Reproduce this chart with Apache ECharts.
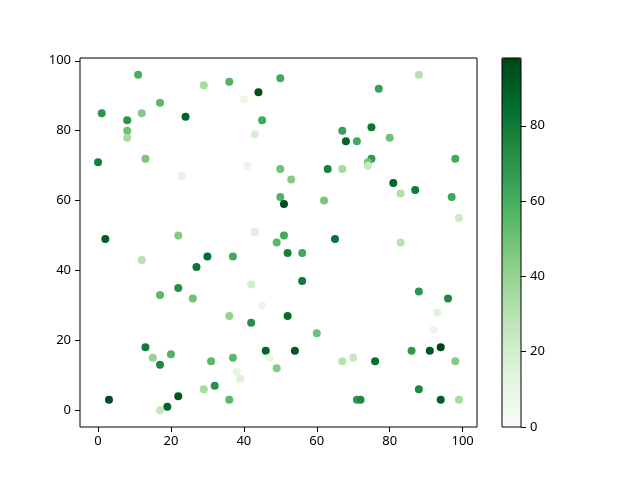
<!DOCTYPE html>
<html>
<head>
<meta charset="utf-8">
<script src="https://cdn.jsdelivr.net/npm/echarts@6/dist/echarts.min.js"></script>
<style>html,body{margin:0;padding:0;background:#fff}#c{width:640px;height:480px}</style>
</head>
<body>
<div id="c"></div>
<script>
var xs = [11,29,36,50,44,40,17,1,12,24,8,8,8,45,43,0,13,41,23,50,50,2,22,43,49,51,
  88,77,75,67,68,71,80,75,74,74,63,67,98,53,81,83,87,97,62,99,51,65,83,
  12,30,37,27,22,17,26,42,45,36,42,13,15,20,17,31,37,46,47,49,38,39,32,29,36,22,3,19,17,
  52,56,56,52,60,54,67,70,76,71,72,88,96,93,92,86,91,94,98,88,94,99];
var ys = [96,93,94,95,91,89,88,85,85,84,83,80,78,83,79,71,72,70,67,69,61,49,50,51,48,59,
  96,92,81,80,77,77,78,72,71,70,69,69,72,66,65,62,63,61,60,55,50,49,48,
  43,44,44,41,35,33,32,36,30,27,25,18,15,16,13,14,15,17,15,12,11,9,7,6,3,4,3,1,0,
  45,45,37,27,22,17,14,15,14,3,3,34,32,28,23,17,17,18,14,6,3,3];
var cs = [60,35,58,62,95,10,55,70,45,88,70,50,35,62,18,78,48,8,12,50,58,90,45,15,55,96,
  30,65,82,65,88,62,50,68,48,25,78,35,62,45,88,32,80,62,48,22,62,82,30,
  30,85,62,82,72,55,50,20,8,40,72,80,40,58,75,55,55,88,10,45,12,15,72,35,55,92,95,88,25,
  78,62,80,85,50,92,30,25,85,68,75,70,75,15,8,68,92,98,45,75,90,35];
var xTicks = [0,20,40,60,80,100];
var yTicks = [0,20,40,60,80,100];
var cTicks = [0,20,40,60,80];
var greens = ['#f7fcf5','#e5f5e0','#c7e9c0','#a1d99b','#74c476','#41ab5d','#238b45','#006d2c','#00441b'];

var pts = xs.map(function(x,i){ return [x, ys[i], cs[i]]; });
var cMax = Math.max.apply(null, cs);
var font = '"Noto Sans", "DejaVu Sans", sans-serif';
var lbl = {color:'#000', fontSize:13, fontFamily:font};

var chart = echarts.init(document.getElementById('c'), null, {renderer:'canvas'});
chart.setOption({
  animation:false,
  backgroundColor:'#fff',
  grid:[
    {left:80, top:58, right:163, bottom:53, show:true, borderColor:'#000', borderWidth:1, z:5},
    {left:502, top:58, width:19, height:369, show:true, borderColor:'#000', borderWidth:1, backgroundColor:'transparent', z:10}
  ],
  xAxis:[
    {type:'value', gridIndex:0, min:-4.95, max:103.95, splitLine:{show:false},
     axisLine:{show:false, onZero:false},
     axisTick:{show:true, length:5, lineStyle:{color:'#000'}, customValues:xTicks},
     axisLabel:Object.assign({margin:8, customValues:xTicks}, lbl)},
    {type:'value', gridIndex:1, show:false, min:0, max:1}
  ],
  yAxis:[
    {type:'value', gridIndex:0, min:-4.8, max:100.8, splitLine:{show:false},
     axisLine:{show:false, onZero:false},
     axisTick:{show:true, length:5, lineStyle:{color:'#000'}, customValues:yTicks},
     axisLabel:Object.assign({margin:9, customValues:yTicks}, lbl)},
    {type:'value', gridIndex:1, position:'right', min:0, max:cMax, splitLine:{show:false},
     axisLine:{show:false, onZero:false},
     axisTick:{show:true, length:5, lineStyle:{color:'#000'}, customValues:cTicks},
     axisLabel:Object.assign({margin:9, customValues:cTicks}, lbl)}
  ],
  visualMap:{
    type:'continuous', min:0, max:cMax, dimension:2, seriesIndex:0,
    orient:'vertical', left:502, top:58, itemWidth:19, itemHeight:369, padding:0,
    calculable:false, text:null, showLabel:false, hoverLink:false, z:1,
    inRange:{color:greens}
  },
  series:[{
    type:'scatter', xAxisIndex:0, yAxisIndex:0, data:pts, symbolSize:8,
    itemStyle:{opacity:1}
  }]
});
</script>
</body>
</html>
